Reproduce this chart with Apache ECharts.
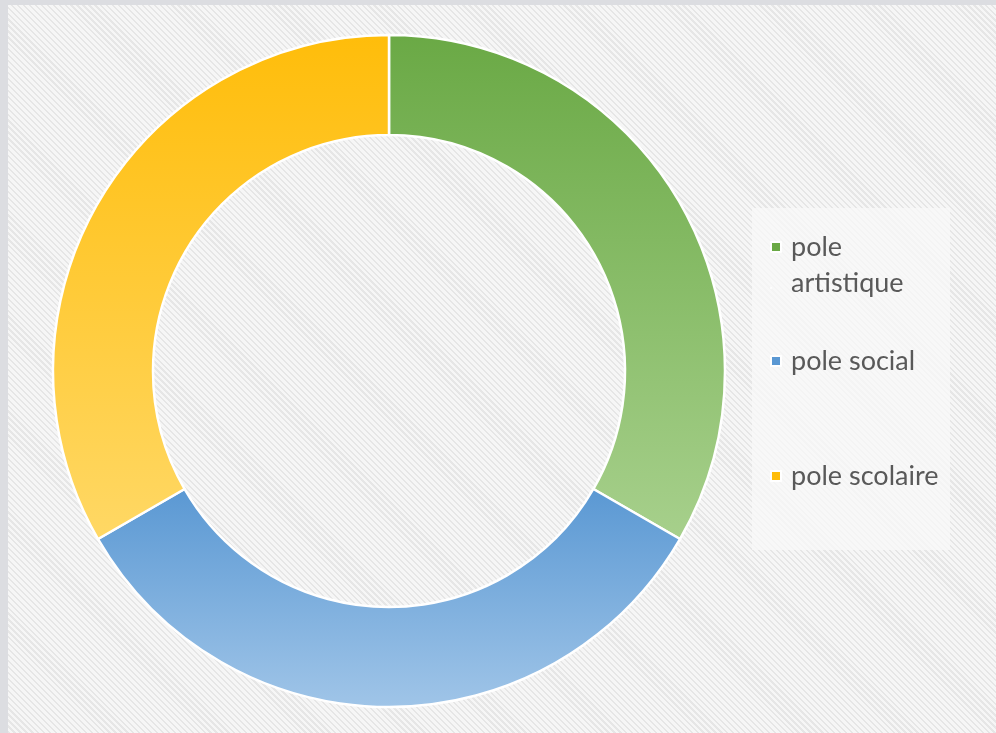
<!DOCTYPE html>
<html>
<head>
<meta charset="utf-8">
<script src="https://cdn.jsdelivr.net/npm/echarts@6/dist/echarts.min.js"></script>
<style>
  html, body { margin: 0; padding: 0; width: 996px; height: 733px; overflow: hidden; background: #dcdde1; }
  #bg { position: absolute; left: 8px; top: 5px; right: 0; bottom: 0;
        background: repeating-linear-gradient(45deg, #e6e6e6 0px, #e6e6e6 1.6px, #f6f6f6 1.6px, #f6f6f6 4.2px); }
  #chart { position: absolute; left: 0; top: 0; width: 996px; height: 733px; }
</style>
</head>
<body>
<div id="bg"></div>
<div id="chart"></div>
<script>
// Data
const categories = ['pole artistique', 'pole social', 'pole scolaire'];
const values = [1, 1, 1];

// Styles
const topColors = ['#6aa945', '#5a98d3', '#ffbd0a'];
const bottomColors = ['#a7d08c', '#a0c5e8', '#ffd865'];

const chart = echarts.init(document.getElementById('chart'), null, { renderer: 'canvas' });

const seriesData = categories.map((name, i) => ({
  name: name,
  value: values[i],
  itemStyle: {
    color: {
      type: 'linear', x: 0, y: 0, x2: 0, y2: 1,
      colorStops: [
        { offset: 0, color: topColors[i] },
        { offset: 1, color: bottomColors[i] }
      ]
    }
  }
}));

const legendText = {
  fontFamily: 'Lato, sans-serif',
  fontSize: 27,
  lineHeight: 36,
  color: '#595959',
  padding: [0, 0, 0, 5]
};

const legendTops = [229, 343, 458];

const legends = categories.map((name, i) => {
  const l = {
    left: 770,
    top: legendTops[i],
    orient: 'vertical',
    padding: 0,
    itemWidth: 10,
    itemHeight: 10,
    selectedMode: false,
    data: [{ name: name, icon: 'rect', itemStyle: { color: topColors[i] } }],
    textStyle: Object.assign({}, legendText)
  };
  if (i === 0) {
    l.itemHeight = 46;
    l.data[0].icon = 'path://M0,0h10v10h-10z M0,46h0.001v0.001h-0.001z';
    l.textStyle.width = 130;
    l.textStyle.overflow = 'break';
  }
  return l;
});

chart.setOption({
  backgroundColor: 'transparent',
  animation: false,
  graphic: [{
    type: 'rect',
    z: -10,
    shape: { x: 752, y: 208, width: 198, height: 342 },
    style: { fill: 'rgba(250,250,250,0.7)' },
    silent: true
  }],
  legend: legends,
  series: [{
    type: 'pie',
    center: [389, 371],
    radius: [236, 336],
    startAngle: 90,
    clockwise: true,
    label: { show: false },
    labelLine: { show: false },
    emphasis: { disabled: true },
    itemStyle: { borderColor: '#ffffff', borderWidth: 2.5 },
    data: seriesData
  }]
});
</script>
</body>
</html>
